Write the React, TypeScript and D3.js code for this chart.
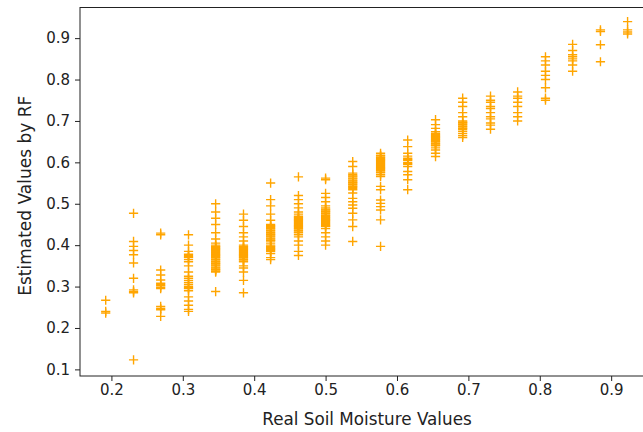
import React, { useEffect, useRef } from "react";
import * as d3 from "d3";

// real soil moisture values (x), one column each
const realValues = [
	0.192, 0.231, 0.269, 0.308, 0.346, 0.385, 0.423, 0.462, 0.5, 0.538,
	0.577, 0.615, 0.654, 0.692, 0.731, 0.769, 0.808, 0.846, 0.885, 0.923,
];

// RF estimates per column (dense blocks are many overlapping points)
const col01 = [0.267, 0.24, 0.236];
const col02 = [0.477, 0.409, 0.397, 0.387, 0.377, 0.357, 0.32, 0.292, 0.288, 0.285, 0.123];
const col03 = [0.429, 0.425, 0.34, 0.328, 0.316, 0.308, 0.305, 0.302, 0.298, 0.295, 0.252, 0.247, 0.244, 0.228];
const col04 = [0.425, 0.4, 0.385, 0.378, 0.375, 0.372, 0.37, 0.365, 0.36, 0.35, 0.335, 0.325, 0.32, 0.315, 0.31, 0.305, 0.3, 0.297, 0.295, 0.29, 0.275, 0.265, 0.255, 0.245, 0.24];
const col05 = [0.5, 0.48, 0.465, 0.45, 0.43, 0.415, 0.405, 0.4, 0.397, 0.395, 0.392, 0.39, 0.387, 0.385, 0.382, 0.38, 0.377, 0.375, 0.372, 0.37, 0.367, 0.365, 0.362, 0.36, 0.357, 0.355, 0.352, 0.35, 0.347, 0.345, 0.342, 0.34, 0.337, 0.335, 0.288];
const col06 = [0.475, 0.46, 0.445, 0.43, 0.42, 0.41, 0.4, 0.397, 0.395, 0.392, 0.39, 0.387, 0.385, 0.382, 0.38, 0.377, 0.375, 0.372, 0.37, 0.367, 0.365, 0.362, 0.36, 0.35, 0.345, 0.335, 0.315, 0.285];
const col07 = [0.55, 0.51, 0.495, 0.475, 0.46, 0.45, 0.447, 0.445, 0.442, 0.44, 0.437, 0.435, 0.432, 0.43, 0.427, 0.425, 0.422, 0.42, 0.417, 0.415, 0.412, 0.41, 0.405, 0.4, 0.397, 0.395, 0.392, 0.39, 0.387, 0.385, 0.38, 0.37, 0.365];
const col08 = [0.565, 0.52, 0.51, 0.5, 0.49, 0.48, 0.475, 0.47, 0.467, 0.465, 0.462, 0.46, 0.457, 0.455, 0.452, 0.45, 0.447, 0.445, 0.442, 0.44, 0.437, 0.435, 0.432, 0.43, 0.425, 0.42, 0.41, 0.4, 0.385, 0.375];
const col09 = [0.562, 0.558, 0.525, 0.515, 0.505, 0.495, 0.49, 0.487, 0.485, 0.482, 0.48, 0.477, 0.475, 0.472, 0.47, 0.467, 0.465, 0.462, 0.46, 0.457, 0.455, 0.452, 0.45, 0.447, 0.445, 0.44, 0.43, 0.42, 0.41, 0.4];
const col10 = [0.602, 0.59, 0.574, 0.57, 0.567, 0.565, 0.562, 0.56, 0.557, 0.555, 0.552, 0.55, 0.547, 0.545, 0.542, 0.54, 0.537, 0.534, 0.526, 0.513, 0.505, 0.497, 0.489, 0.477, 0.461, 0.445, 0.409];
const col11 = [0.622, 0.617, 0.615, 0.612, 0.61, 0.607, 0.605, 0.602, 0.6, 0.597, 0.595, 0.592, 0.59, 0.587, 0.585, 0.582, 0.58, 0.577, 0.575, 0.57, 0.566, 0.542, 0.534, 0.509, 0.501, 0.493, 0.485, 0.461, 0.397];
const col12 = [0.654, 0.638, 0.622, 0.615, 0.61, 0.607, 0.605, 0.6, 0.597, 0.595, 0.59, 0.578, 0.57, 0.558, 0.534];
const col13 = [0.703, 0.691, 0.682, 0.674, 0.67, 0.667, 0.665, 0.662, 0.66, 0.657, 0.655, 0.652, 0.65, 0.647, 0.645, 0.642, 0.64, 0.635, 0.63, 0.622, 0.614];
const col14 = [0.755, 0.745, 0.735, 0.72, 0.71, 0.7, 0.697, 0.695, 0.692, 0.69, 0.687, 0.685, 0.682, 0.68, 0.675, 0.67, 0.665, 0.66];
const col15 = [0.76, 0.75, 0.745, 0.735, 0.73, 0.72, 0.71, 0.705, 0.695, 0.69, 0.68];
const col16 = [0.77, 0.76, 0.755, 0.745, 0.735, 0.72, 0.71, 0.7];
const col17 = [0.855, 0.845, 0.835, 0.82, 0.81, 0.8, 0.78, 0.755, 0.75];
const col18 = [0.885, 0.87, 0.86, 0.855, 0.85, 0.845, 0.835, 0.82];
const col19 = [0.92, 0.916, 0.884, 0.843];
const col20 = [0.94, 0.92, 0.915, 0.91];

const estimated = [
	col01, col02, col03, col04, col05, col06, col07, col08, col09, col10,
	col11, col12, col13, col14, col15, col16, col17, col18, col19, col20,
];

const xTicks = [0.2, 0.3, 0.4, 0.5, 0.6, 0.7, 0.8, 0.9];
const yTicks = [0.1, 0.2, 0.3, 0.4, 0.5, 0.6, 0.7, 0.8, 0.9];

export default function App() {
	const svgRef = useRef(null);

	useEffect(() => {
		const width = 643;
		const height = 432;
		const svg = d3.select(svgRef.current);
		svg.selectAll("*").remove();
		svg.attr("width", width).attr("height", height);

		// axes box: right spine falls outside the picture (cropped)
		const left = 80;
		const right = 654;
		const top = 7.5;
		const bottom = 376;

		const x = d3.scaleLinear().domain([0.156, 0.96]).range([left, right]);
		const y = d3.scaleLinear().domain([0.084, 0.974]).range([bottom, top]);

		const points = realValues.flatMap((rv, i) => estimated[i].map((ev) => ({ rv, ev })));

		const font = "DejaVu Sans, sans-serif";

		svg.append("rect").attr("width", width).attr("height", height).attr("fill", "white");

		// markers
		const arm = 4.6;
		svg
			.append("g")
			.attr("stroke", "#ffa500")
			.attr("stroke-width", 1.4)
			.attr("fill", "none")
			.selectAll()
			.data(points)
			.join("path")
			.attr("d", (d) => {
				const cx = x(d.rv);
				const cy = y(d.ev);
				return `M${cx - arm},${cy}H${cx + arm}M${cx},${cy - arm}V${cy + arm}`;
			});

		// spines
		svg
			.append("rect")
			.attr("x", left)
			.attr("y", top)
			.attr("width", right - left)
			.attr("height", bottom - top)
			.attr("fill", "none")
			.attr("stroke", "#222")
			.attr("stroke-width", 1);

		// x axis
		const xAxis = svg
			.append("g")
			.attr("transform", `translate(0,${bottom})`)
			.call(d3.axisBottom(x).tickValues(xTicks).tickSize(5).tickPadding(3).tickFormat(d3.format(".1f")));
		xAxis.select(".domain").remove();
		xAxis.selectAll("line").attr("stroke", "#222");
		xAxis.selectAll("text").attr("font-family", font).attr("font-size", 15).attr("fill", "#222");

		// y axis
		const yAxis = svg
			.append("g")
			.attr("transform", `translate(${left},0)`)
			.call(d3.axisLeft(y).tickValues(yTicks).tickSize(5).tickPadding(5).tickFormat(d3.format(".1f")));
		yAxis.select(".domain").remove();
		yAxis.selectAll("line").attr("stroke", "#222");
		yAxis.selectAll("text").attr("font-family", font).attr("font-size", 15).attr("fill", "#222");

		svg
			.append("text")
			.attr("x", (left + right) / 2)
			.attr("y", 425)
			.attr("text-anchor", "middle")
			.attr("font-family", font)
			.attr("font-size", 16.8)
			.attr("fill", "#222")
			.text("Real Soil Moisture Values");

		svg
			.append("text")
			.attr("transform", `translate(31,${(top + bottom) / 2 + 4}) rotate(-90)`)
			.attr("text-anchor", "middle")
			.attr("font-family", font)
			.attr("font-size", 17)
			.attr("fill", "#222")
			.text("Estimated Values by RF");
	}, []);

	return (
		<div style={{ position: "absolute", left: 0, top: 0 }}>
			<svg ref={svgRef} style={{ display: "block" }} />
		</div>
	);
}
